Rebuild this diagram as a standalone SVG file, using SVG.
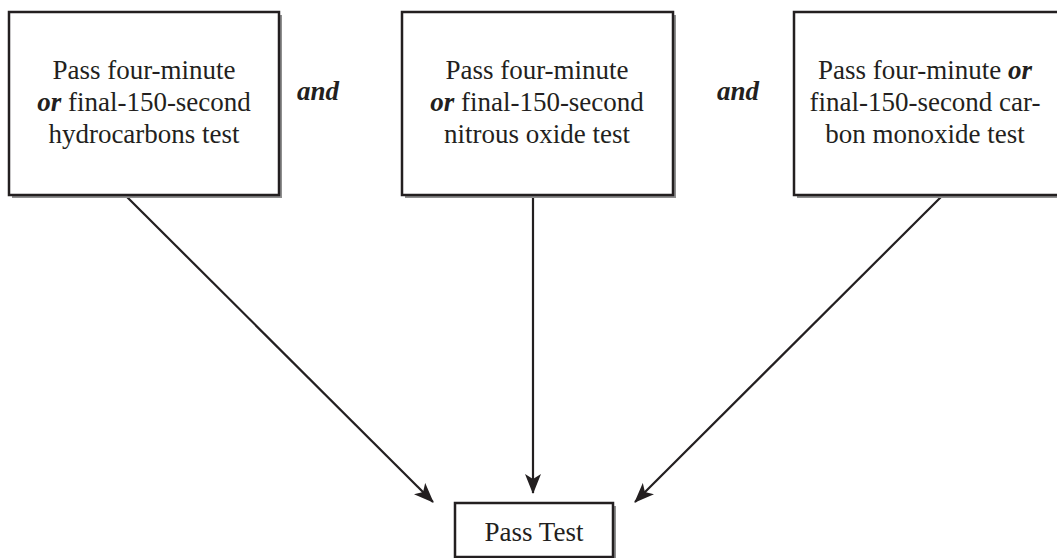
<svg xmlns="http://www.w3.org/2000/svg" width="1057" height="558" viewBox="0 0 1057 558">
<defs>
<style>
.box{fill:#fff;stroke:#231f20;stroke-width:2.5}
.shadow{fill:#8f8f8f}
.t{font-family:"Liberation Serif",serif;font-size:27px;fill:#231f20;text-anchor:middle}
.bi{font-weight:bold;font-style:italic}
.conn{stroke:#231f20;stroke-width:2.2;fill:none;marker-end:url(#ah)}
</style>
<marker id="ah" viewBox="0 0 10 10" refX="9.5" refY="5" markerWidth="20" markerHeight="16" markerUnits="userSpaceOnUse" orient="auto" preserveAspectRatio="none">
<path d="M0,0 L10,5 L0,10 L2.5,5 Z" fill="#231f20"/>
</marker>
</defs>
<g id="connectors">
<line class="conn" x1="123" y1="193" x2="433" y2="502"/>
<line class="conn" x1="533" y1="193" x2="533" y2="493"/>
<line class="conn" x1="945" y1="193" x2="635" y2="502"/>
</g>
<g id="node1">
<rect class="shadow" x="12" y="15" width="270" height="183"/>
<rect class="box" x="9" y="12" width="270" height="183"/>
<text class="t" x="144" y="79">Pass four-minute</text>
<text class="t" x="144" y="111"><tspan class="bi">or</tspan> final-150-second</text>
<text class="t" x="144" y="143">hydrocarbons test</text>
</g>
<g id="and1"><text class="t bi" x="318" y="100">and</text></g>
<g id="node2">
<rect class="shadow" x="405" y="15" width="271" height="183"/>
<rect class="box" x="402" y="12" width="271" height="183"/>
<text class="t" x="537" y="79">Pass four-minute</text>
<text class="t" x="537" y="111"><tspan class="bi">or</tspan> final-150-second</text>
<text class="t" x="537" y="143">nitrous oxide test</text>
</g>
<g id="and2"><text class="t bi" x="738" y="100">and</text></g>
<g id="node3">
<rect class="shadow" x="797" y="15" width="280" height="183"/>
<rect class="box" x="794" y="12" width="280" height="183"/>
<text class="t" x="925" y="79">Pass four-minute <tspan class="bi">or</tspan></text>
<text class="t" x="925" y="111">final-150-second car-</text>
<text class="t" x="925" y="143">bon monoxide test</text>
</g>
<g id="node4">
<rect class="shadow" x="458" y="506" width="158" height="54"/>
<rect class="box" x="455" y="503" width="158" height="54"/>
<text class="t" x="534" y="541">Pass Test</text>
</g>
</svg>
